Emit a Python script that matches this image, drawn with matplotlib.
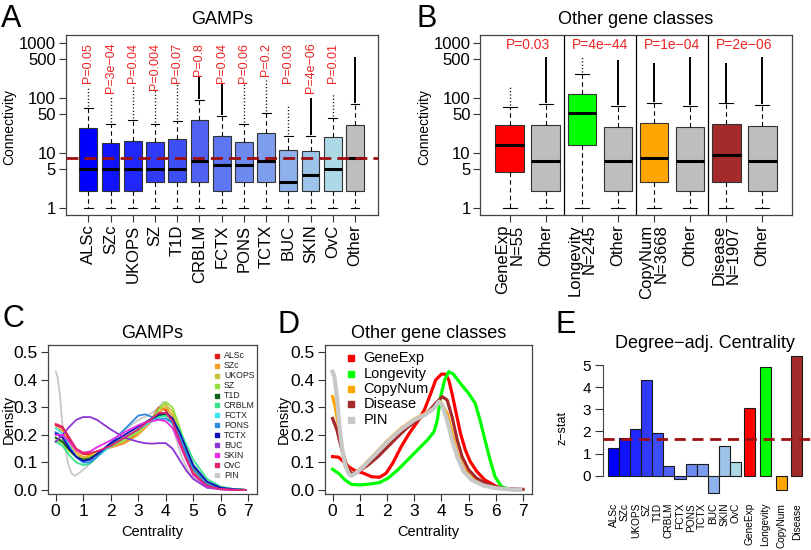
import numpy as np
import matplotlib
matplotlib.use('Agg')
import matplotlib.pyplot as plt

plt.rcParams['font.family'] = ['Liberation Sans', 'DejaVu Sans']
plt.rcParams['axes.unicode_minus'] = True

# ---------------- data ----------------
gamps = ['ALSc', 'SZc', 'UKOPS', 'SZ', 'T1D', 'CRBLM', 'FCTX', 'PONS', 'TCTX', 'BUC', 'SKIN', 'OvC']

# Panel A: connectivity boxplots (GAMPs + Other)
a_labels = gamps + ['Other']
a_whislo = [1, 1, 1, 1, 1, 1, 1, 1, 1, 1, 1, 1, 1]
a_q1 = [2, 2, 2, 3, 3, 3, 2, 3, 3, 2, 2, 2, 2]
a_med = [5, 5, 5, 5, 5, 7, 6, 6, 7, 3, 4, 5, 8]
a_q3 = [28.7, 15, 16.4, 16, 18, 39, 20, 16, 23, 11.4, 10.8, 19.7, 32]
a_whishi = [66, 34, 40, 34, 38, 91, 47, 34, 53, 20.5, 20, 43.5, 77]
a_outmax = [160, 105, 170, 140, 183, 240, 175, 175, 210, 76, 100, 120, 557]
a_outdense = [False, False, False, False, False, True, True, False, False, False, True, False, True]
a_pvals = ['P=0.05', 'P=3e\u221204', 'P=0.04', 'P=0.004', 'P=0.07', 'P=0.8', 'P=0.04',
           'P=0.06', 'P=0.2', 'P=0.03', 'P=4e\u221206', 'P=0.01']

# Panel B: other gene classes
b_labels = ['GeneExp\nN=55', 'Other', 'Longevity\nN=245', 'Other',
            'CopyNum\nN=3668', 'Other', 'Disease\nN=1907', 'Other']
b_whislo = [1, 1, 1, 1, 1, 1, 1, 1]
b_q1 = [4.5, 2, 14, 2, 3, 2, 3, 2]
b_med = [14, 7, 53, 7, 8, 7, 9, 7]
b_q3 = [31.5, 32, 118, 30, 35, 30, 33, 31]
b_whishi = [68, 77, 270, 71, 82, 71, 79, 73]
b_outmax = [170, 557, 550, 490, 425, 557, 425, 557]
b_outdense = [False, True, False, True, True, True, True, True]
b_pvals = ['P=0.03', 'P=4e\u221244', 'P=1e\u221204', 'P=2e\u221206']

# Panel C: centrality densities of GAMPs
c_x = [0, 0.25, 0.5, 0.75, 1, 1.25, 1.5, 2, 2.5, 3, 3.25, 3.5, 3.75, 4, 4.25, 4.5, 4.75, 5, 5.5, 6, 6.5, 6.9]
c_ALSc = [0.235, 0.225, 0.18, 0.145, 0.13, 0.13, 0.14, 0.155, 0.17, 0.21, 0.235, 0.26, 0.30, 0.29, 0.245, 0.17, 0.11, 0.06, 0.02, 0.005, 0.001, 0]
c_SZc = [0.225, 0.215, 0.17, 0.135, 0.12, 0.125, 0.14, 0.155, 0.17, 0.2, 0.225, 0.25, 0.28, 0.30, 0.27, 0.19, 0.12, 0.07, 0.022, 0.006, 0.001, 0]
c_UKOPS = [0.19, 0.18, 0.15, 0.125, 0.115, 0.12, 0.135, 0.155, 0.18, 0.21, 0.235, 0.26, 0.29, 0.31, 0.285, 0.21, 0.14, 0.08, 0.025, 0.007, 0.001, 0]
c_SZ = [0.18, 0.17, 0.14, 0.12, 0.11, 0.115, 0.13, 0.16, 0.18, 0.21, 0.235, 0.26, 0.295, 0.32, 0.30, 0.23, 0.15, 0.09, 0.03, 0.008, 0.002, 0]
c_T1D = [0.19, 0.175, 0.145, 0.12, 0.11, 0.115, 0.13, 0.165, 0.19, 0.22, 0.24, 0.255, 0.27, 0.275, 0.25, 0.2, 0.14, 0.085, 0.03, 0.008, 0.002, 0]
c_CRBLM = [0.175, 0.16, 0.125, 0.1, 0.09, 0.095, 0.12, 0.16, 0.19, 0.22, 0.235, 0.25, 0.265, 0.27, 0.255, 0.22, 0.165, 0.11, 0.04, 0.012, 0.003, 0]
c_FCTX = [0.225, 0.205, 0.16, 0.12, 0.1, 0.1, 0.12, 0.16, 0.19, 0.22, 0.235, 0.25, 0.26, 0.26, 0.24, 0.2, 0.145, 0.09, 0.03, 0.008, 0.002, 0]
c_PONS = [0.21, 0.195, 0.155, 0.12, 0.1, 0.1, 0.12, 0.17, 0.22, 0.27, 0.275, 0.265, 0.255, 0.26, 0.245, 0.19, 0.13, 0.075, 0.02, 0.005, 0.001, 0]
c_TCTX = [0.205, 0.19, 0.15, 0.12, 0.105, 0.11, 0.13, 0.17, 0.2, 0.23, 0.245, 0.26, 0.275, 0.28, 0.26, 0.21, 0.15, 0.09, 0.03, 0.008, 0.002, 0]
c_BUC = [0.175, 0.2, 0.23, 0.255, 0.265, 0.265, 0.255, 0.22, 0.19, 0.175, 0.17, 0.168, 0.17, 0.17, 0.15, 0.11, 0.07, 0.04, 0.008, 0.002, 0, 0]
c_SKIN = [0.2, 0.2, 0.175, 0.145, 0.135, 0.14, 0.155, 0.18, 0.21, 0.235, 0.245, 0.25, 0.255, 0.25, 0.225, 0.17, 0.11, 0.055, 0.012, 0.002, 0, 0]
c_OvC = [0.24, 0.23, 0.19, 0.15, 0.135, 0.135, 0.14, 0.16, 0.19, 0.22, 0.24, 0.26, 0.28, 0.28, 0.25, 0.18, 0.115, 0.06, 0.015, 0.003, 0, 0]

# PIN density (shared by panels C and D)
pin_x = [0, 0.07, 0.16, 0.24, 0.34, 0.46, 0.58, 0.7, 0.88, 1.13, 1.55, 2.03, 2.52, 3.0, 3.37, 3.73, 3.91, 4.03, 4.21, 4.39, 4.58, 4.82, 5.12, 5.54, 6.03, 6.63, 6.9]
pin_y = [0.43, 0.41, 0.339, 0.242, 0.157, 0.091, 0.06, 0.051, 0.063, 0.085, 0.127, 0.176, 0.22, 0.254, 0.272, 0.297, 0.321, 0.309, 0.254, 0.182, 0.121, 0.067, 0.036, 0.016, 0.006, 0.001, 0]

# Panel D: other gene classes densities
d_geneexp_x = [0, 0.22, 0.4, 0.58, 0.82, 1.13, 1.43, 1.73, 1.97, 2.21, 2.52, 2.82, 3.12, 3.37, 3.61, 3.79, 4.0, 4.15, 4.27, 4.39, 4.52, 4.7, 4.88, 5.06, 5.3, 5.6, 6.03, 6.51, 6.9]
d_geneexp_y = [0.121, 0.119, 0.103, 0.085, 0.07, 0.061, 0.048, 0.046, 0.061, 0.097, 0.157, 0.206, 0.248, 0.29, 0.351, 0.4, 0.421, 0.421, 0.4, 0.351, 0.29, 0.206, 0.145, 0.103, 0.067, 0.036, 0.012, 0.002, 0]
d_longevity_x = [0, 0.22, 0.46, 0.7, 1.0, 1.43, 1.73, 2.03, 2.4, 2.76, 3.12, 3.49, 3.73, 3.85, 3.97, 4.12, 4.27, 4.45, 4.7, 5.0, 5.24, 5.42, 5.6, 5.79, 5.97, 6.21, 6.51, 6.9]
d_longevity_y = [0.075, 0.06, 0.036, 0.02, 0.018, 0.022, 0.027, 0.042, 0.073, 0.109, 0.145, 0.182, 0.212, 0.254, 0.339, 0.4, 0.43, 0.42, 0.387, 0.351, 0.315, 0.254, 0.182, 0.109, 0.048, 0.012, 0.002, 0]
d_copynum_x = [0, 0.1, 0.22, 0.36, 0.52, 0.68, 0.88, 1.13, 1.55, 2.03, 2.52, 3.0, 3.37, 3.73, 3.97, 4.21, 4.39, 4.58, 4.82, 5.06, 5.42, 5.9, 6.4, 6.9]
d_copynum_y = [0.339, 0.3, 0.23, 0.145, 0.085, 0.054, 0.066, 0.088, 0.13, 0.18, 0.224, 0.257, 0.276, 0.302, 0.32, 0.278, 0.206, 0.133, 0.079, 0.048, 0.024, 0.01, 0.002, 0]
d_disease_x = [0, 0.16, 0.34, 0.52, 0.7, 0.94, 1.31, 1.67, 2.03, 2.4, 2.76, 3.12, 3.49, 3.79, 4.03, 4.21, 4.39, 4.58, 4.76, 5.0, 5.3, 5.67, 6.03, 6.39, 7.0]
d_disease_y = [0.26, 0.218, 0.145, 0.085, 0.058, 0.067, 0.091, 0.121, 0.157, 0.194, 0.228, 0.254, 0.281, 0.315, 0.339, 0.327, 0.266, 0.182, 0.121, 0.073, 0.042, 0.022, 0.01, 0.004, 0.002]

# Panel E: degree-adjusted centrality z-stats
e_labels = gamps + ['GeneExp', 'Longevity', 'CopyNum', 'Disease']
e_gamps_z = [1.24, 1.72, 2.11, 4.34, 1.91, 0.44, -0.15, 0.51, 0.54, -0.80, 1.33, 0.62]
e_classes_z = [3.06, 4.91, -0.66, 5.41]
e_threshold = 1.645

# ---------------- styling ----------------
W, H = 812, 550
fig = plt.figure(figsize=(W / 100, H / 100), dpi=100)


def ax_px(l, t, r, b):
    return fig.add_axes([l / W, 1 - b / H, (r - l) / W, (b - t) / H])


blue = np.array([0, 0, 255]) / 255
lblue = np.array([173, 216, 230]) / 255
gamp_cols = [tuple(blue + (lblue - blue) * t) for t in np.linspace(0, 1, 12)]
GRAY = '#BEBEBE'
PRED = '#EE2424'
DRED = '#9E0E0E'
class_cols = ['#FF0000', '#00FF00', '#FFA500', '#A52A2A']
c_cols = ['#E41A1C', '#F3A02A', '#C8C33A', '#92E03C', '#10601A', '#3BE38C', '#3EE5EE',
          '#2E8BE0', '#1010B8', '#8C35D6', '#E82CE8', '#E0266E']
PINCOL = '#C8C8C8'


def draw_boxes(ax, q1, med, q3, wlo, whi, omax, dense, colors):
    pos = np.arange(1, len(q1) + 1)
    stats = [dict(med=m, q1=a, q3=b, whislo=lo, whishi=hi, fliers=[])
             for a, m, b, lo, hi in zip(q1, med, q3, wlo, whi)]
    for i in range(len(pos)):
        if dense[i]:
            ax.plot([pos[i], pos[i]], [whi[i] * 1.04, omax[i]], color='black', lw=1.4,
                    solid_capstyle='butt', zorder=1)
        else:
            ax.plot([pos[i], pos[i]], [whi[i] * 1.08, omax[i]], color='black', lw=1.0,
                    linestyle=(0, (0.8, 1.6)), zorder=1)
    res = ax.bxp(stats, positions=pos, widths=0.8, capwidths=0.4, patch_artist=True,
                 showfliers=False,
                 boxprops=dict(edgecolor='#333333', linewidth=0.8),
                 medianprops=dict(color='black', linewidth=2.2, solid_capstyle='butt'),
                 whiskerprops=dict(color='black', linewidth=0.8, linestyle=(0, (4, 3))),
                 capprops=dict(color='black', linewidth=0.8))
    for patch, c in zip(res['boxes'], colors):
        patch.set_facecolor(c)
    return pos


def style_box_axes(ax, n, labels, lsize=12):
    ax.set_yscale('log')
    ax.set_ylim(10 ** -0.127, 10 ** 3.14)
    ax.set_xlim(0.5 - 0.04 * n, n + 0.5 + 0.04 * n)
    ax.set_yticks([1, 5, 10, 50, 100, 500, 1000])
    ax.set_yticklabels(['1', '5', '10', '50', '100', '500', '1000'], fontsize=12)
    ax.minorticks_off()
    ax.set_xticks(np.arange(1, n + 1))
    ax.set_xticklabels(labels, rotation=90, fontsize=lsize, va='top', ha='center',
                       multialignment='right', linespacing=0.95)
    ax.tick_params(axis='both', length=5, width=0.8, color='#333333', pad=2)
    for s in ax.spines.values():
        s.set_color('#444444')
        s.set_linewidth(0.9)


# ---------------- Panel A ----------------
axA = ax_px(65.7, 35, 377.7, 215)
colsA = gamp_cols + [GRAY]
posA = draw_boxes(axA, a_q1, a_med, a_q3, a_whislo, a_whishi, a_outmax, a_outdense, colsA)
axA.axhline(a_med[-1], color=DRED, lw=2, dashes=(4.3, 2.2), zorder=5)
style_box_axes(axA, len(a_labels), a_labels)
for i, p in enumerate(a_pvals):
    axA.text(posA[i], 1000, p, rotation=90, color=PRED, fontsize=9, ha='center', va='top')

# ---------------- Panel B ----------------
axB = ax_px(480.3, 35, 791.7, 215)
colsB = [class_cols[0], GRAY, class_cols[1], GRAY, class_cols[2], GRAY, class_cols[3], GRAY]
posB = draw_boxes(axB, b_q1, b_med, b_q3, b_whislo, b_whishi, b_outmax, b_outdense, colsB)
style_box_axes(axB, len(b_labels), b_labels)
for k in range(1, 4):
    axB.axvline(2 * k + 0.5, color='black', lw=0.9)
for k, p in enumerate(b_pvals):
    axB.text(2 * k + 1.5, 900, p, color=PRED, fontsize=10, ha='center', va='center')

# ---------------- Panel C ----------------
axC = ax_px(47.7, 345, 257.3, 494.3)
c_series = [c_ALSc, c_SZc, c_UKOPS, c_SZ, c_T1D, c_CRBLM, c_FCTX, c_PONS, c_TCTX, c_BUC, c_SKIN, c_OvC]
axC.plot(pin_x, pin_y, color=PINCOL, lw=1.3)
for ys, col in zip(c_series, c_cols):
    axC.plot(c_x, ys, color=col, lw=1.3)

leg_names = gamps + ['PIN']
leg_cols = c_cols + [PINCOL]
for i, (nm, col) in enumerate(zip(leg_names, leg_cols)):
    yy = 0.928 - i * 0.0666
    axC.plot([0.806], [yy], marker='s', ms=3, color=col, transform=axC.transAxes, clip_on=False)
    axC.text(0.841, yy, nm, fontsize=6.3, va='center', ha='left', transform=axC.transAxes,
             color='#222222')

# ---------------- Panel D ----------------
axD = ax_px(324.7, 345, 532, 494.3)
d_series = [(d_geneexp_x, d_geneexp_y, class_cols[0], 'GeneExp'),
            (d_longevity_x, d_longevity_y, class_cols[1], 'Longevity'),
            (d_copynum_x, d_copynum_y, class_cols[2], 'CopyNum'),
            (d_disease_x, d_disease_y, class_cols[3], 'Disease')]
for xs, ys, col, nm in d_series:
    axD.plot(xs, ys, color=col, lw=2.3)
axD.plot(pin_x, pin_y, color=PINCOL, lw=3.0)
d_leg = [(nm, col) for _, _, col, nm in d_series] + [('PIN', PINCOL)]
for i, (nm, col) in enumerate(d_leg):
    yy = 0.911 - i * 0.103
    axD.plot([0.128], [yy], marker='s', ms=4.5, color=col, transform=axD.transAxes, clip_on=False)
    axD.text(0.188, yy, nm, fontsize=10.5, va='center', ha='left', transform=axD.transAxes)

for ax in (axC, axD):
    ax.set_xlim(-0.29, 7.33)
    ax.set_ylim(-0.016, 0.527)
    ax.set_xticks(range(8))
    ax.set_yticks([0, 0.1, 0.2, 0.3, 0.4, 0.5])
    ax.set_yticklabels(['0.0', '0.1', '0.2', '0.3', '0.4', '0.5'])
    ax.tick_params(axis='both', length=5, width=0.8, color='#333333', labelsize=12.5, pad=2)
    for s in ax.spines.values():
        s.set_color('#444444')
        s.set_linewidth(0.9)

# ---------------- Panel E ----------------
axE = ax_px(602.7, 353, 812, 500)
n_g = len(e_gamps_z)
gx = np.arange(n_g)
cx = n_g + 0.33 + np.arange(len(e_classes_z)) * 1.42
axE.bar(gx, e_gamps_z, width=1, align='edge', color=gamp_cols, edgecolor='#1a1a1a', linewidth=0.8)
axE.bar(cx, e_classes_z, width=1, align='edge', color=class_cols, edgecolor='#1a1a1a', linewidth=0.8)
axE.axhline(e_threshold, color=DRED, lw=2, dashes=(4.0, 2.4), zorder=5)
axE.set_xlim(-0.51, 18.47)
axE.set_ylim(-1.098, 5.545)
axE.set_yticks(range(6))
axE.tick_params(axis='y', length=5.5, width=0.8, color='#333333', labelsize=11, pad=3)
axE.spines['left'].set_bounds(0, 5)
for s in ('top', 'right', 'bottom'):
    axE.spines[s].set_visible(False)
axE.spines['left'].set_color('#444444')
axE.set_xticks(np.concatenate([gx, cx]) + 0.5)
axE.set_xticklabels(e_labels, rotation=90, fontsize=7.3, va='top', ha='center')
axE.tick_params(axis='x', length=0, pad=2)
axE.patch.set_alpha(0)

# ---------------- texts ----------------
def ftext(x, y, s, **kw):
    fig.text(x / W, 1 - y / H, s, **kw)

for (x, y, s) in [(1, 27, 'A'), (416.7, 27, 'B'), (3, 327, 'C'), (278, 333, 'D'), (555, 333, 'E')]:
    ftext(x, y, s, fontsize=22, ha='left', va='baseline')

ftext(221.7, 20, 'GAMPs', fontsize=13, ha='center', va='center')
ftext(636, 20, 'Other gene classes', fontsize=13, ha='center', va='center')
ftext(152.5, 333, 'GAMPs', fontsize=13, ha='center', va='center')
ftext(428.3, 334, 'Other gene classes', fontsize=13, ha='center', va='center')
ftext(705, 343, 'Degree\u2212adj. Centrality', fontsize=13, ha='center', va='center')

ftext(9, 127, 'Connectivity', fontsize=10, rotation=90, ha='center', va='center')
ftext(424, 127, 'Connectivity', fontsize=10, rotation=90, ha='center', va='center')
ftext(9, 419, 'Density', fontsize=10.5, rotation=90, ha='center', va='center')
ftext(284, 419, 'Density', fontsize=10.5, rotation=90, ha='center', va='center')
ftext(563, 428, 'z\u2212stat', fontsize=9, rotation=90, ha='center', va='center')
ftext(152.5, 531.7, 'Centrality', fontsize=10.5, ha='center', va='center')
ftext(428.3, 531.7, 'Centrality', fontsize=10.5, ha='center', va='center')

fig.savefig('out.png', dpi=100)
